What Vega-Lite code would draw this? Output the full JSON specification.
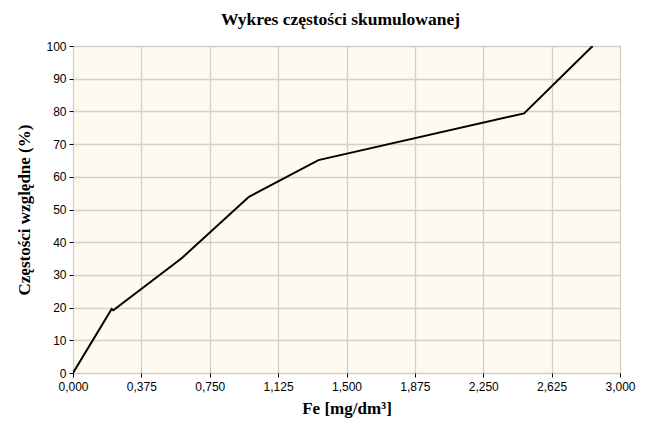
{
  "$schema": "https://vega.github.io/schema/vega-lite/v6.json",
  "width": 547,
  "height": 327,
  "autosize": {"type": "none"},
  "padding": {"left": 73, "top": 46, "right": 37, "bottom": 59},
  "background": "white",
  "title": {
    "text": "Wykres częstości skumulowanej",
    "font": "Liberation Serif",
    "fontSize": 17.5,
    "fontWeight": "bold",
    "color": "black",
    "offset": 12,
    "dx": -6
  },
  "config": {
    "locale": {
      "number": {"decimal": ",", "thousands": " ", "grouping": [3], "currency": ["", ""]}
    },
    "view": {"fill": "#FEFAEF", "stroke": "black", "strokeWidth": 1},
    "axis": {
      "gridColor": "#D4D0C8",
      "gridWidth": 1.3,
      "gridOpacity": 1,
      "domain": false,
      "tickColor": "black",
      "tickSize": 4,
      "labelFont": "Liberation Sans",
      "labelFontSize": 12,
      "labelColor": "black",
      "titleFont": "Liberation Serif",
      "titleFontSize": 17,
      "titleFontWeight": "bold",
      "titleColor": "black"
    }
  },
  "data": {
    "values": [
      {"fe": 0, "pct": 0},
      {"fe": 0.212, "pct": 19.6},
      {"fe": 0.221, "pct": 19.2},
      {"fe": 0.596, "pct": 35.1},
      {"fe": 0.965, "pct": 53.9},
      {"fe": 1.346, "pct": 65.1},
      {"fe": 2.474, "pct": 79.4},
      {"fe": 2.85, "pct": 100}
    ]
  },
  "mark": {"type": "line", "color": "black", "strokeWidth": 2, "clip": true},
  "encoding": {
    "x": {
      "field": "fe",
      "type": "quantitative",
      "scale": {"domain": [0, 3], "nice": false, "zero": false},
      "axis": {
        "values": [0, 0.375, 0.75, 1.125, 1.5, 1.875, 2.25, 2.625, 3],
        "format": ".3f",
        "title": "Fe [mg/dm³]",
        "titlePadding": 8,
        "labelPadding": 4,
        "labelFlush": false
      }
    },
    "y": {
      "field": "pct",
      "type": "quantitative",
      "scale": {"domain": [0, 100], "nice": false},
      "axis": {
        "values": [0, 10, 20, 30, 40, 50, 60, 70, 80, 90, 100],
        "format": "d",
        "title": "Częstości względne (%)",
        "titlePadding": 12,
        "labelPadding": 3,
        "labelFlush": false
      }
    }
  }
}
